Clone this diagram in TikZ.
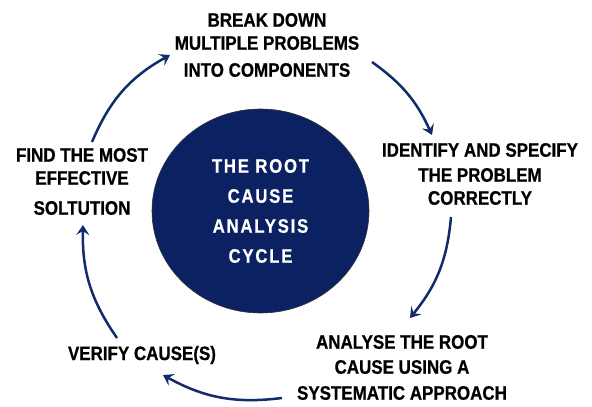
\documentclass[tikz,border=0pt]{standalone}
\usepackage{fontspec}
\setmainfont{Liberation Sans}
\newfontfamily\lblfont[FakeStretch=0.87,FakeBold=0.6]{Liberation Sans}
\newfontfamily\ctrfont[FakeStretch=0.86,LetterSpace=9,FakeBold=0.5]{Liberation Sans}
\usetikzlibrary{arrows.meta,shapes.geometric}
\definecolor{navy}{HTML}{0B2161}
\definecolor{arrowc}{HTML}{122B6C}
\tikzset{
  lbl/.style={align=center, inner sep=0pt, text=black,
    font={\lblfont\bfseries\fontsize{19.5}{23}\selectfont}},
  hub/.style={ellipse, draw=black!80, line width=0.6pt, fill=navy, text=white,
    minimum width=217pt, minimum height=204pt, inner sep=0pt, align=center,
    font={\ctrfont\bfseries\fontsize{19.5}{30}\selectfont}},
  arr/.style={draw=arrowc, line width=2.5pt,
    -{Stealth[length=10pt,width=13pt,inset=4pt]}}
}
\begin{document}
\begin{tikzpicture}[x=1pt,y=1pt]
\useasboundingbox (0,0) rectangle (592,407);
\node[hub] (hub) at (260.5,196) {THE ROOT\\CAUSE\\ANALYSIS\\CYCLE};
\node[lbl] (brk) at (267,362) {BREAK DOWN\\MULTIPLE PROBLEMS\\[4pt]INTO COMPONENTS};
\node[lbl] (idf) at (480,233) {IDENTIFY AND SPECIFY\\[2pt]THE PROBLEM\\CORRECTLY};
\node[lbl] (ana) at (402,39.5) {ANALYSE THE ROOT\\[2pt]CAUSE USING A\\[3pt]SYSTEMATIC APPROACH};
\node[lbl] (ver) at (142,52) {VERIFY CAUSE(S)};
\node[lbl] (fnd) at (82,225.5) {FIND THE MOST\\EFFECTIVE\\[7pt]SOLTUTION};
% connector end points
\coordinate (f1) at (92,265);   \coordinate (b1) at (170,352);
\coordinate (b2) at (372,345);  \coordinate (i2) at (432,272);
\coordinate (i3) at (451,190);  \coordinate (a3) at (410,89);
\coordinate (a4) at (282,9);    \coordinate (v4) at (163,32);
\coordinate (v5) at (117,69);   \coordinate (f5) at (83,182);
\draw[arr] (f1) to[bend left=19] (b1);
\draw[arr] (b2) to[bend left=15] (i2);
\draw[arr] (i3) to[bend left=17] (a3);
\draw[arr] (a4) to[bend left=18] (v4);
\draw[arr] (v5) to[bend left=18] (f5);
\end{tikzpicture}
\end{document}
